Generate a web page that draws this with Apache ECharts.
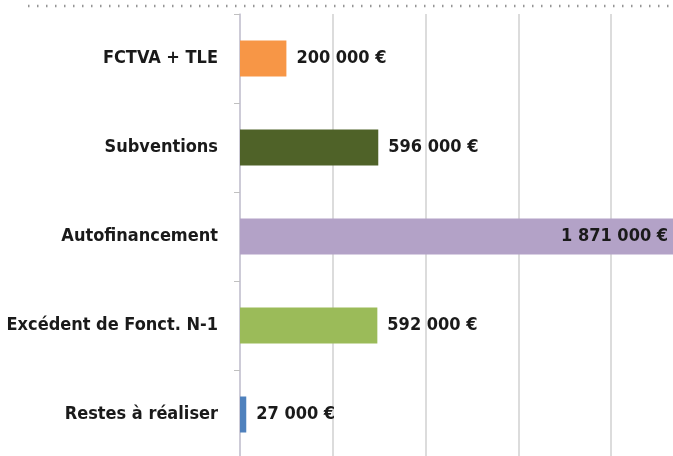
<!DOCTYPE html>
<html>
<head>
<meta charset="utf-8">
<script src="https://cdn.jsdelivr.net/npm/echarts@6/dist/echarts.min.js"></script>
<style>
  html, body { margin: 0; padding: 0; background: #ffffff; }
  #chart { width: 673px; height: 456px; }
</style>
</head>
<body>
<div id="chart"></div>
<script>
// Sources de financement de l'investissement
const categories = ['FCTVA + TLE', 'Subventions', 'Autofinancement', 'Excédent de Fonct. N-1', 'Restes à réaliser'];
const amounts = [200000, 596000, 1871000, 592000, 27000];
const barColors = ['#f79646', '#4f6228', '#b3a2c7', '#9bbb59', '#4f81bd'];
const labelInside = [false, false, true, false, false];

const fontStack = '"Liberation Sans Narrow", "DejaVu Sans Condensed", "Roboto", sans-serif';

function formatEuro(v) {
  return String(v).replace(/\B(?=(\d{3})+(?!\d))/g, ' ') + ' €';
}

const chart = echarts.init(document.getElementById('chart'), null, { renderer: 'canvas' });

chart.setOption({
  animation: false,
  backgroundColor: '#ffffff',
  graphic: [{
    type: 'line',
    shape: { x1: 28, y1: 6, x2: 673, y2: 6 },
    style: { stroke: '#959595', lineWidth: 2.5, lineDash: [1.5, 7.5] }
  }],
  grid: {
    left: 240, top: 14, width: 464, height: 445,
    containLabel: false,
    outerBoundsMode: 'none'
  },
  xAxis: {
    type: 'value',
    min: 0,
    max: 2000000,
    interval: 400000,
    axisLine: { show: false },
    axisTick: { show: false },
    axisLabel: { show: false },
    splitLine: { show: true, lineStyle: { color: '#dcdcdc', width: 2 } }
  },
  yAxis: {
    type: 'category',
    inverse: true,
    data: categories,
    axisLine: { show: true, lineStyle: { color: '#c9c6d6', width: 1.5 } },
    axisTick: { show: true, length: 6, lineStyle: { color: '#c0c0c0' } },
    axisLabel: {
      margin: 22,
      color: '#1a1a1a',
      fontFamily: fontStack,
      fontWeight: 'bold',
      fontSize: 18
    }
  },
  series: [{
    type: 'bar',
    barWidth: 36,
    data: amounts.map((v, i) => ({
      value: v,
      itemStyle: { color: barColors[i] },
      label: {
        show: true,
        position: labelInside[i] ? 'insideRight' : 'right',
        distance: labelInside[i] ? 6 : 10,
        formatter: formatEuro(v),
        color: '#1a1a1a',
        fontFamily: fontStack,
        fontWeight: 'bold',
        fontSize: 18
      }
    }))
  }]
});
</script>
</body>
</html>
